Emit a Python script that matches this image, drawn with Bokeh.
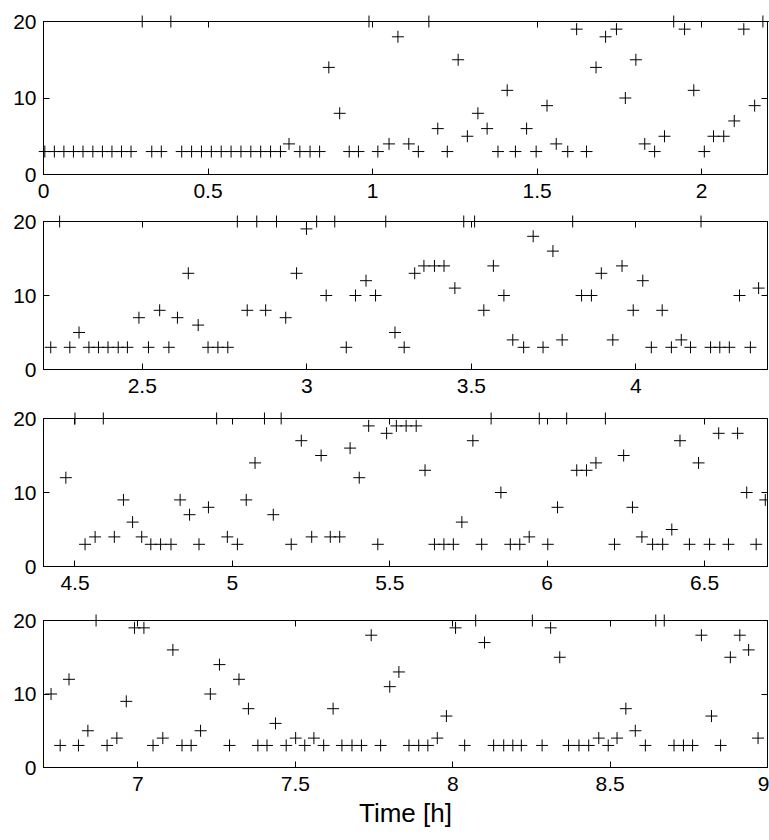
from bokeh.plotting import figure
from bokeh.models import Range1d, FixedTicker, LinearAxis, CustomJSTickFormatter
from bokeh.layouts import column
from bokeh.embed import file_html
from bokeh.resources import INLINE

FONT = "Liberation Sans"

# ---------------- data (time in hours, value) ----------------
t1 = [0.004, 0.033, 0.062, 0.091, 0.12, 0.15, 0.179, 0.208, 0.237, 0.266,
      0.30, 0.329, 0.358, 0.387,
      0.42, 0.45, 0.48, 0.51, 0.54, 0.57, 0.60, 0.63, 0.66, 0.69, 0.72,
      0.746, 0.779, 0.81, 0.839, 0.867, 0.90, 0.929, 0.957, 0.989,
      1.016, 1.05, 1.077, 1.11, 1.139, 1.171, 1.198, 1.227, 1.26, 1.288,
      1.32, 1.348, 1.381, 1.409, 1.434, 1.468, 1.497, 1.53, 1.558, 1.593,
      1.62, 1.65, 1.679, 1.708, 1.741, 1.768, 1.80, 1.827, 1.857, 1.887,
      1.915, 1.948, 1.976, 2.008, 2.036, 2.067, 2.099, 2.128, 2.161, 2.186]
v1 = [3, 3, 3, 3, 3, 3, 3, 3, 3, 3,
      20, 3, 3, 20,
      3, 3, 3, 3, 3, 3, 3, 3, 3, 3, 3,
      4, 3, 3, 3, 14, 8, 3, 3, 20,
      3, 4, 18, 4, 3, 20, 6, 3, 15, 5,
      8, 6, 3, 11, 3, 6, 3, 9, 4, 3,
      19, 3, 14, 18, 19, 10, 15, 4, 3, 5,
      20, 19, 11, 3, 5, 5, 7, 19, 9, 20]

t2 = [2.222, 2.249, 2.28, 2.308, 2.338, 2.367, 2.396, 2.427, 2.455, 2.49,
      2.519, 2.553, 2.581, 2.607, 2.64, 2.67, 2.70, 2.73, 2.76, 2.789,
      2.819, 2.848, 2.875, 2.908, 2.936, 2.969, 2.999, 3.03, 3.059, 3.085,
      3.12, 3.148, 3.18, 3.209, 3.24, 3.268, 3.296, 3.328, 3.356, 3.388,
      3.417, 3.45, 3.477, 3.51, 3.538, 3.567, 3.599, 3.626, 3.659, 3.688,
      3.718, 3.748, 3.776, 3.808, 3.835, 3.865, 3.895, 3.93, 3.958, 3.992,
      4.021, 4.047, 4.08, 4.108, 4.138, 4.166, 4.198, 4.227, 4.255, 4.284,
      4.315, 4.348, 4.373]
v2 = [3, 20, 3, 5, 3, 3, 3, 3, 3, 7,
      3, 8, 3, 7, 13, 6, 3, 3, 3, 20,
      8, 20, 8, 20, 7, 13, 19, 20, 10, 20,
      3, 10, 12, 10, 20, 5, 3, 13, 14, 14,
      14, 11, 20, 20, 8, 14, 10, 4, 3, 18,
      3, 16, 4, 20, 10, 10, 13, 4, 14, 8,
      12, 3, 8, 3, 4, 3, 20, 3, 3, 3,
      10, 3, 11]

t3 = [4.471, 4.5, 4.532, 4.564, 4.59, 4.625, 4.654, 4.683, 4.712, 4.741,
      4.772, 4.805, 4.834, 4.864, 4.894, 4.924, 4.95, 4.984, 5.016, 5.044,
      5.072, 5.102, 5.13, 5.155, 5.187, 5.219, 5.252, 5.282, 5.311, 5.341,
      5.374, 5.403, 5.433, 5.462, 5.49, 5.521, 5.552, 5.584, 5.612, 5.642,
      5.672, 5.702, 5.729, 5.764, 5.792, 5.822, 5.853, 5.883, 5.913, 5.943,
      5.975, 6.002, 6.033, 6.062, 6.094, 6.125, 6.155, 6.185, 6.214, 6.243,
      6.271, 6.301, 6.335, 6.367, 6.396, 6.422, 6.452, 6.481, 6.516, 6.545,
      6.576, 6.605, 6.634, 6.664, 6.693]
v3 = [12, 20, 3, 4, 20, 4, 9, 6, 4, 3,
      3, 3, 9, 7, 3, 8, 20, 4, 3, 9,
      14, 20, 7, 20, 3, 17, 4, 15, 4, 4,
      16, 12, 19, 3, 18, 19, 19, 19, 13, 3,
      3, 3, 6, 17, 3, 20, 10, 3, 3, 4,
      20, 3, 8, 20, 13, 13, 14, 20, 3, 15,
      8, 4, 3, 3, 5, 17, 3, 14, 3, 18,
      3, 18, 10, 3, 9]

t4 = [6.724, 6.753, 6.781, 6.811, 6.841, 6.867, 6.902, 6.933, 6.963, 6.989,
      7.019, 7.048, 7.079, 7.111, 7.14, 7.169, 7.199, 7.23, 7.259, 7.291,
      7.321, 7.351, 7.381, 7.41, 7.437, 7.471, 7.501, 7.53, 7.559, 7.59,
      7.62, 7.648, 7.68, 7.71, 7.741, 7.771, 7.80, 7.829, 7.861, 7.892,
      7.921, 7.951, 7.98, 8.009, 8.038, 8.073, 8.101, 8.13, 8.162, 8.191,
      8.218, 8.253, 8.284, 8.311, 8.34, 8.368, 8.401, 8.432, 8.464, 8.494,
      8.522, 8.55, 8.58, 8.612, 8.645, 8.672, 8.703, 8.733, 8.762, 8.79,
      8.822, 8.851, 8.882, 8.912, 8.94, 8.97]
v4 = [10, 3, 12, 3, 5, 20, 3, 4, 9, 19,
      19, 3, 4, 16, 3, 3, 5, 10, 14, 3,
      12, 8, 3, 3, 6, 3, 4, 3, 4, 3,
      8, 3, 3, 3, 18, 3, 11, 13, 3, 3,
      3, 4, 7, 19, 3, 20, 17, 3, 3, 3,
      3, 20, 3, 19, 15, 3, 3, 3, 4, 3,
      4, 8, 5, 3, 20, 20, 3, 3, 3, 18,
      7, 3, 15, 18, 16, 4]

xlim1 = (0.0, 2.2)
xlim2 = (2.2, 4.4)
xlim3 = (4.4, 6.7)
xlim4 = (6.7, 9.0)
xticks1 = [0, 0.5, 1, 1.5, 2]
xticks2 = [2.5, 3, 3.5, 4]
xticks3 = [4.5, 5, 5.5, 6, 6.5]
xticks4 = [7, 7.5, 8, 8.5, 9]
yticks = [0, 10, 20]
xlabel = "Time [h]"


def style_axis(ax, ticks, labels):
    ax.ticker = FixedTicker(ticks=ticks)
    ax.axis_line_color = "black"
    ax.axis_line_width = 1
    ax.major_tick_line_color = "black"
    ax.major_tick_line_width = 1
    ax.major_tick_in = 6
    ax.major_tick_out = 0
    ax.minor_tick_line_color = None
    if labels:
        ax.major_label_text_font = FONT
        ax.major_label_text_font_size = "21px"
        ax.major_label_text_color = "black"
    else:
        ax.formatter = CustomJSTickFormatter(code="return ''")
        ax.major_label_text_font_size = "0px"
        ax.major_label_standoff = 0


def panel(t, v, xlim, xticks, fh, top, bottom, left=43, label=None):
    p = figure(frame_width=724, frame_height=fh,
               x_range=Range1d(*xlim), y_range=Range1d(0, 20),
               output_backend="svg", toolbar_location=None,
               min_border_left=left, min_border_right=2,
               min_border_top=top, min_border_bottom=bottom,
               background_fill_color="white", border_fill_color="white")
    p.grid.visible = False
    p.outline_line_color = "black"
    p.outline_line_width = 1
    xb = p.xaxis[0]
    yl = p.yaxis[0]
    style_axis(xb, xticks, True)
    xb.formatter = CustomJSTickFormatter(code="return String(tick)")
    xb.major_label_standoff = 9
    style_axis(yl, yticks, True)
    yl.major_label_standoff = 7
    if label:
        xb.axis_label = label
        xb.axis_label_text_font = FONT
        xb.axis_label_text_font_size = "26px"
        xb.axis_label_text_font_style = "normal"
        xb.axis_label_text_color = "black"
        xb.axis_label_standoff = 4
    ax_top = LinearAxis()
    style_axis(ax_top, xticks, False)
    p.add_layout(ax_top, "above")
    ax_right = LinearAxis()
    style_axis(ax_right, yticks, False)
    p.add_layout(ax_right, "right")
    r = p.scatter(t, v, marker="cross", size=12, line_color="black",
                  line_width=1)
    r.level = "overlay"
    return p


p1 = panel(t1, v1, xlim1, xticks1, 153, 21, 36)
p2 = panel(t2, v2, xlim2, xticks2, 148, 11, 38)
p3 = panel(t3, v3, xlim3, xticks3, 148, 11, 42, left=42)
p4 = panel(t4, v4, xlim4, xticks4, 147, 12, 60, label=xlabel)

p = column(p1, p2, p3, p4, spacing=0)

html = file_html(p, INLINE)
html = html.replace("<head>", "<head><style>html,body{overflow:hidden;}</style>", 1)
open("out.html", "w").write(html)
